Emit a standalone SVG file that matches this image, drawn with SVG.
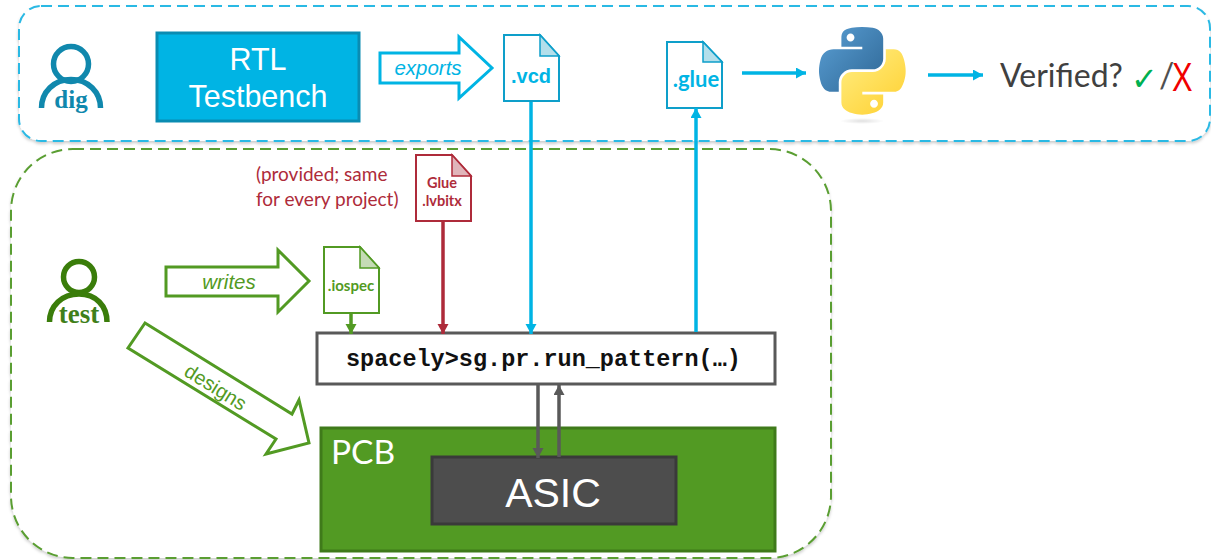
<svg xmlns="http://www.w3.org/2000/svg" width="1211" height="560" viewBox="0 0 1211 560">
<style>
.sans{font-family:"Liberation Sans",Arial,sans-serif}
.lato{font-family:Lato,"Open Sans",sans-serif}
.serif{font-family:"Liberation Serif","DejaVu Serif",serif;font-weight:bold}
.mono{font-family:"Liberation Mono",monospace;font-weight:bold}
.c{text-anchor:middle}
.frame{fill:#fff;stroke-width:2;stroke-dasharray:11 6}
.file{fill:#fff;stroke-width:2}
.big{fill:#fff;stroke-width:3}
.conn{fill:none;stroke-width:3.5}
.person{fill:none;stroke-width:5.500}
</style>
<defs>
<filter id="sh" x="-5%" y="-5%" width="110%" height="110%"><feDropShadow dx="0" dy="2" stdDeviation="1.500" flood-color="#000" flood-opacity="0.2"/></filter>
<marker id="ac" markerUnits="userSpaceOnUse" markerWidth="12" markerHeight="12" refX="10" refY="5.500" orient="auto"><path d="M0 0L10 5.500L0 11z" fill="#00b4e4"/></marker>
<marker id="ar" markerUnits="userSpaceOnUse" markerWidth="12" markerHeight="12" refX="10" refY="5.500" orient="auto"><path d="M0 0L10 5.500L0 11z" fill="#ae2b3a"/></marker>
<marker id="ag" markerUnits="userSpaceOnUse" markerWidth="12" markerHeight="12" refX="10" refY="5.500" orient="auto"><path d="M0 0L10 5.500L0 11z" fill="#529a23"/></marker>
<marker id="ad" markerUnits="userSpaceOnUse" markerWidth="12" markerHeight="12" refX="10" refY="5.500" orient="auto"><path d="M0 0L10 5.500L0 11z" fill="#595959"/></marker>
<linearGradient id="py1" x1="0" y1="0" x2="1" y2="0.9"><stop offset="0" stop-color="#5a9fd4"/><stop offset="1" stop-color="#306998"/></linearGradient>
<linearGradient id="py2" x1="0.2" y1="0.2" x2="0.8" y2="0.9"><stop offset="0" stop-color="#ffe873"/><stop offset="1" stop-color="#ffd43b"/></linearGradient>
<radialGradient id="pys"><stop offset="0" stop-color="#000" stop-opacity=".12"/><stop offset="1" stop-color="#000" stop-opacity="0"/></radialGradient>
</defs>

<g id="frame-dig"><rect class="frame" x="19" y="6" width="1191" height="135" rx="22" stroke="#2cb9e4" filter="url(#sh)"/></g>
<g id="frame-test"><rect class="frame" x="11" y="149" width="820" height="409" rx="62" stroke="#5a9e32" filter="url(#sh)"/></g>

<g id="person-dig" stroke="#1088ad">
<circle class="person" cx="71" cy="64" r="17.500"/>
<path class="person" d="M41.500 108C41.500 92 54 79.500 71 79.500C88 79.500 100.500 92 100.500 108"/>
<text class="serif c" x="71" y="108" font-size="25" fill="#1088ad" stroke="none">dig</text>
</g>
<g id="rtl">
<rect x="157" y="33" width="202" height="88" fill="#00b4e4" stroke="#0a8cb2" stroke-width="3"/>
<text class="sans c" x="258" y="70" font-size="30.500" fill="#fff">RTL</text>
<text class="sans c" x="258" y="107" font-size="30.500" fill="#fff">Testbench</text>
</g>
<g id="exports">
<path d="M380 53H459V37L492 68L459 98V83H380z" fill="#fff" stroke="#00b4e4" stroke-width="3"/>
<text class="sans c" x="428" y="75" font-size="20.500" font-style="italic" fill="#00b4e4">exports</text>
</g>
<g id="vcd">
<path class="file" d="M504 35H540L559 56V101H504z" stroke="#0e9fca"/>
<path d="M540 35V56H559z" fill="#b3dfeb" stroke="#0e9fca" stroke-width="1.500"/>
<text class="sans c" x="531" y="83" font-size="20" font-weight="bold" fill="#00b4e4">.vcd</text>
</g>
<g id="glue-out">
<path class="file" d="M667 42H703L722 62V108H667z" stroke="#0e9fca"/>
<path d="M703 42V62H722z" fill="#b3dfeb" stroke="#0e9fca" stroke-width="1.500"/>
<text class="lato c" x="696" y="87" font-size="22" font-weight="bold" fill="#00b4e4">.glue</text>
</g>
<g id="python">
<ellipse cx="862" cy="121" rx="22" ry="3" fill="url(#pys)"/>
<g transform="translate(819 27) scale(.78)">
<path fill="url(#py1)" d="M54.919 0.001c-4.584 0.022-8.961 0.413-12.812 1.095C30.760 3.100 28.700 7.295 28.700 15.032v10.219h26.813v3.406H28.700H18.638c-7.793 0-14.616 4.684-16.750 13.594c-2.462 10.213-2.571 16.586 0 27.250c1.906 7.938 6.458 13.594 14.250 13.594h9.219v-12.250c0-8.850 7.657-16.656 16.750-16.656h26.781c7.455 0 13.406-6.138 13.406-13.625V15.032c0-7.266-6.130-12.725-13.406-13.937C64.282 0.328 59.502-0.020 54.919 0.001zM40.419 8.220c2.770 0 5.031 2.299 5.031 5.125c0 2.816-2.262 5.094-5.031 5.094c-2.779 0-5.031-2.277-5.031-5.094c0-2.826 2.252-5.125 5.031-5.125z"/>
<path fill="url(#py2)" d="M85.638 28.657v11.906c0 9.231-7.826 17-16.750 17H42.107c-7.336 0-13.406 6.278-13.406 13.625v25.531c0 7.266 6.319 11.540 13.406 13.625c8.487 2.496 16.626 2.947 26.781 0c6.750-1.954 13.406-5.888 13.406-13.625V86.500H55.513v-3.406h26.781h13.406c7.793 0 10.696-5.436 13.406-13.594c2.800-8.399 2.680-16.476 0-27.250c-1.926-7.757-5.604-13.594-13.406-13.594zM70.575 93.313c2.779 0 5.031 2.277 5.031 5.094c0 2.826-2.252 5.125-5.031 5.125c-2.770 0-5.031-2.299-5.031-5.125c0-2.816 2.262-5.094 5.031-5.094z"/>
</g>
</g>
<g id="verified">
<text class="lato" x="1000" y="87" font-size="32" fill="#404040">Verified?</text>
<text x="1131" y="90" font-size="32" fill="#00b050" style="font-family:'DejaVu Sans',sans-serif">✓</text>
<text class="lato" x="1159" y="88" font-size="34" fill="#505050">/</text>
<text class="sans" transform="translate(1172 91) scale(.75 1)" font-size="41" fill="#f00000">X</text>
</g>

<g id="person-test" stroke="#3a7d0a">
<circle class="person" cx="79" cy="277" r="15.500"/>
<path class="person" d="M49.500 322C49.500 306 62 294 79 294C96 294 107 306 107 322"/>
<text class="serif c" x="79" y="323" font-size="27" fill="#3f7f1a" stroke="none">test</text>
</g>
<g id="note"><text class="lato" x="256" y="181" font-size="19" fill="#ae2b3a">(provided; same</text><text class="lato" x="256" y="206" font-size="19" fill="#ae2b3a">for every project)</text></g>
<g id="glue-bit">
<path class="file" d="M416 155H452L471 176V221H416z" stroke="#ae2b3a"/>
<path d="M452 155V176H471z" fill="#e0b5ba" stroke="#ae2b3a" stroke-width="1.500"/>
<text class="lato c" x="442" y="188" font-size="14.500" font-weight="bold" fill="#ae2b3a">Glue</text>
<text class="lato c" x="442" y="206" font-size="14.500" font-weight="bold" fill="#ae2b3a">.lvbitx</text>
</g>
<g id="writes">
<path d="M166 267H278V250L309 281L278 312V296H166z" fill="#fff" stroke="#529a23" stroke-width="3"/>
<text class="sans c" x="229" y="289" font-size="20.500" font-style="italic" fill="#529a23">writes</text>
</g>
<g id="iospec">
<path class="file" d="M324 247H360L379 268V313H324z" stroke="#529a23"/>
<path d="M360 247V268H379z" fill="#c5dbb5" stroke="#529a23" stroke-width="1.500"/>
<text class="lato c" x="351" y="291" font-size="15" font-weight="bold" fill="#529a23">.iospec</text>
</g>
<g id="designs">
<path d="M145 323L128 348L276 439L266 454L309 443L299 400L292 414z" fill="#fff" stroke="#529a23" stroke-width="3"/>
<text class="sans c" transform="translate(212 393) rotate(32)" font-size="20" fill="#529a23">designs</text>
</g>
<g id="pcb">
<rect x="321" y="428" width="454" height="123" fill="#529a23" stroke="#3f7a1a" stroke-width="3"/>
<text class="lato" x="331" y="464" font-size="33.500" fill="#fff">PCB</text>
</g>
<g id="asic">
<rect x="432" y="457" width="244" height="67" fill="#4d4d4d" stroke="#3a3a3a" stroke-width="3"/>
<text class="sans c" x="553" y="507" font-size="41" fill="#fff">ASIC</text>
</g>
<g id="cmd">
<rect class="big" x="317" y="333" width="458" height="51" stroke="#595959"/>
<text class="mono" x="346" y="366" font-size="23.500" fill="#111">spacely&gt;sg.pr.run_pattern(…)</text>
</g>

<g id="connectors">
<path class="conn" d="M531 102V334" stroke="#00b4e4" marker-end="url(#ac)"/>
<path class="conn" d="M696 332V108" stroke="#00b4e4" marker-end="url(#ac)"/>
<path class="conn" d="M742 73H806" stroke="#00b4e4" marker-end="url(#ac)"/>
<path class="conn" d="M928 75H983" stroke="#00b4e4" marker-end="url(#ac)"/>
<path class="conn" d="M443 222V334" stroke="#ae2b3a" marker-end="url(#ar)"/>
<path class="conn" d="M351 314V334" stroke="#529a23" marker-end="url(#ag)"/>
<path class="conn" d="M538 385V458" stroke="#595959" marker-end="url(#ad)"/>
<path class="conn" d="M559 457V385" stroke="#595959" marker-end="url(#ad)"/>
</g>
</svg>
